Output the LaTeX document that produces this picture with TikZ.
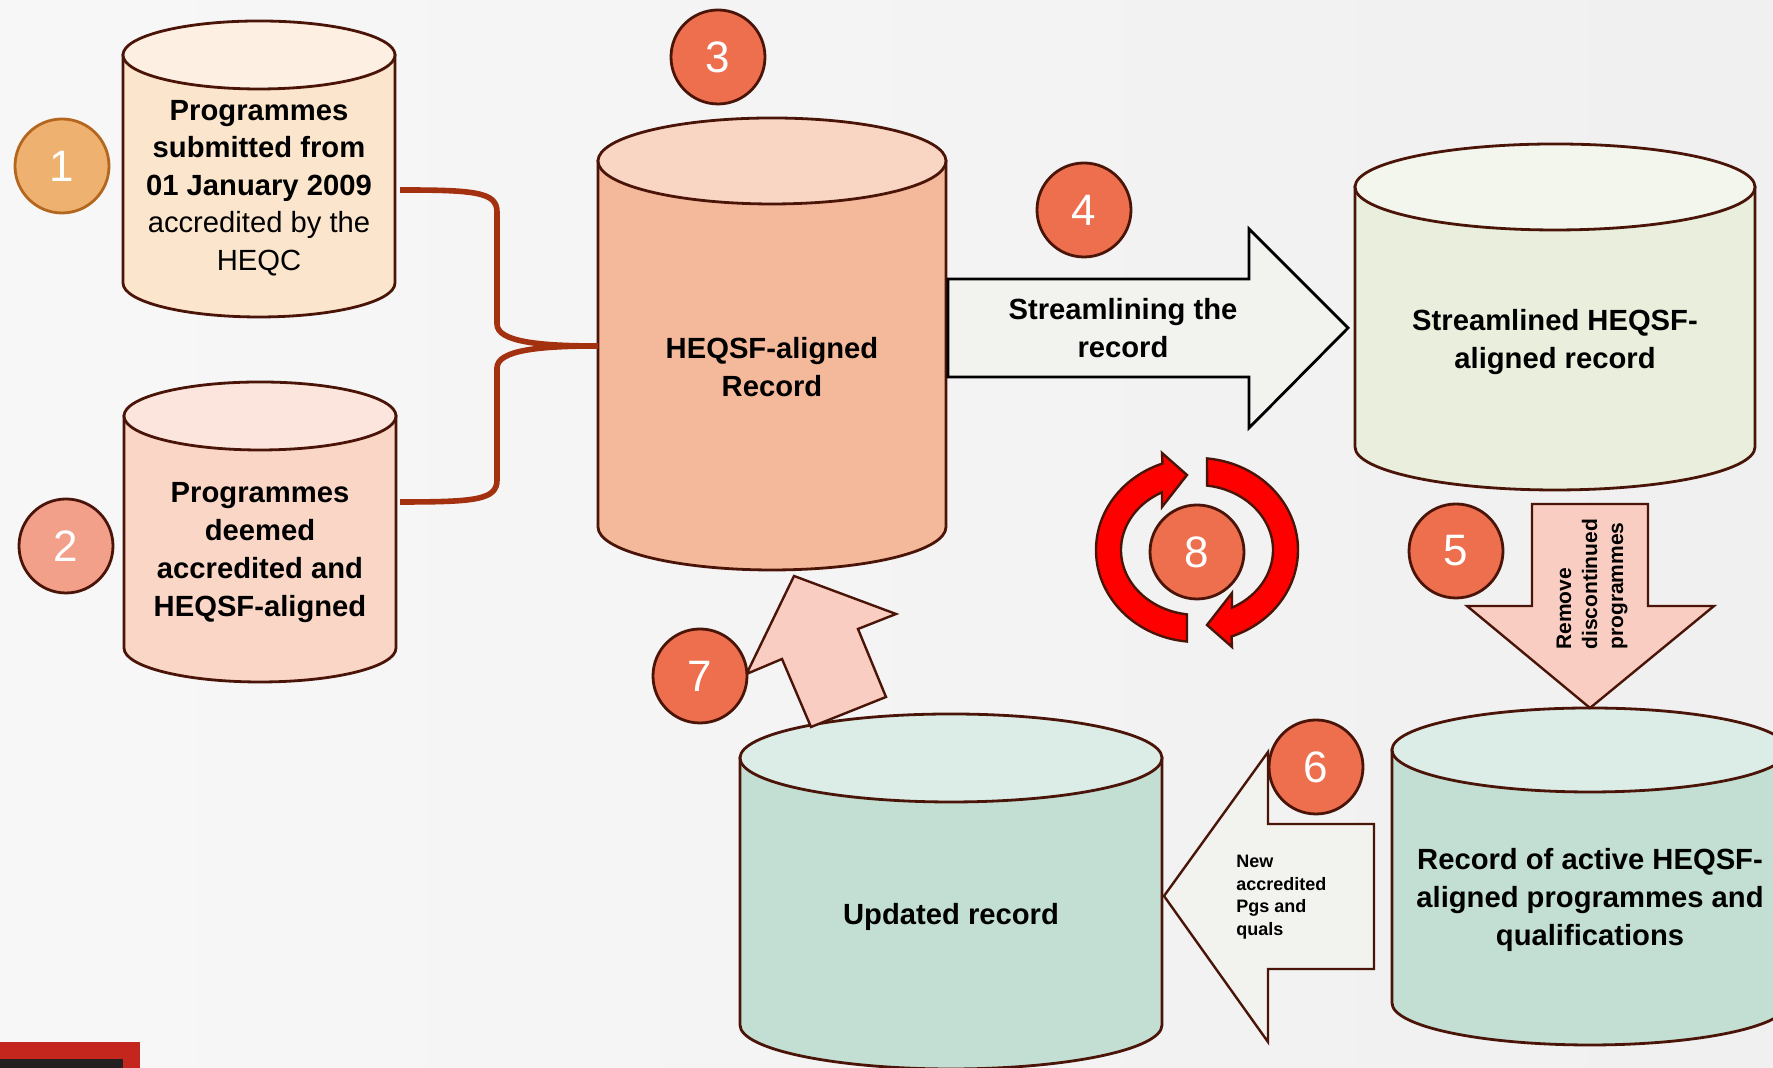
\documentclass[tikz,border=0pt]{standalone}
\usepackage{fontspec}
\setmainfont{Liberation Sans}

\definecolor{edgebrown}{HTML}{4A1508}
\definecolor{numfill}{HTML}{EE6F4D}
\definecolor{onefill}{HTML}{EFB170}
\definecolor{oneline}{HTML}{B5661E}
\definecolor{twofill}{HTML}{F2A089}
\definecolor{bracecol}{HTML}{A3300F}
\definecolor{peachbody}{HTML}{FBE5CD}
\definecolor{peachtop}{HTML}{FDEFE2}
\definecolor{pinkbody}{HTML}{F9D6C5}
\definecolor{pinktop}{HTML}{FBE5DC}
\definecolor{salmonbody}{HTML}{F4B99A}
\definecolor{salmontop}{HTML}{F8D6C3}
\definecolor{greenbody}{HTML}{E9EFDC}
\definecolor{greentop}{HTML}{F3F6EC}
\definecolor{tealbody}{HTML}{C3DFD4}
\definecolor{tealtop}{HTML}{DCECE6}
\definecolor{greyarrow}{HTML}{F2F2EE}
\definecolor{pinkarrow}{HTML}{F9CDC1}
\definecolor{cyclered}{HTML}{FF0000}
\definecolor{barred}{HTML}{C4261E}
\definecolor{bardark}{HTML}{231F20}

% cx, y of top ellipse, y of bottom ellipse, rx, ry, body colour, top colour
\newcommand{\drum}[7]{%
  \filldraw[cylline, fill=#6] (#1-#4,#2) -- (#1-#4,#3)
    arc[start angle=180, end angle=360, x radius=#4, y radius=#5] -- (#1+#4,#2) -- cycle;
  \filldraw[cylline, fill=#7] (#1,#2) ellipse[x radius=#4, y radius=#5];
}

\begin{document}
\begin{tikzpicture}[x=0.5pt,y=0.5pt,
  cylline/.style={draw=edgebrown, line width=1.4pt},
  cyltext/.style={align=center, font=\bfseries\fontsize{14.6}{19}\selectfont},
  numdot/.style={circle, draw=edgebrown, line width=1.4pt, fill=numfill, minimum size=47pt,
    inner sep=0pt, text=white, font=\fontsize{22}{22}\selectfont},
  flowarrow/.style={draw=edgebrown, line width=1.2pt, line join=miter},
  cyclearrow/.style={draw=edgebrown, fill=cyclered, line width=1.2pt, line join=miter}]
	\useasboundingbox (0,0) rectangle (1773,1068);
	\clip (0,0) rectangle (1773,1068);
	\fill[left color=white!97!black, right color=white!94!black] (0,0) rectangle (1773,1068);
	\fill[barred] (0,0) rectangle (140,26);
	\fill[bardark] (0,0) rectangle (123,9);

	% the record stores
	\drum{259}{1013}{785}{136}{34}{peachbody}{peachtop}
	\drum{260}{652}{420}{136}{34}{pinkbody}{pinktop}
	\drum{772}{907}{541}{174}{43}{salmonbody}{salmontop}
	\drum{1555}{881}{621}{200}{43}{greenbody}{greentop}
	\drum{1590}{318}{65}{198}{42}{tealbody}{tealtop}
	\drum{951}{310}{43}{211}{44}{tealbody}{tealtop}

	\node[align=center, font=\fontsize{14.6}{18.8}\selectfont] (submitted) at (259,880)
		{\textbf{Programmes}\\\textbf{submitted from}\\\textbf{01 January 2009}\\accredited by the\\HEQC};
	\node[cyltext] (deemed) at (260,515)
		{Programmes\\deemed\\accredited and\\HEQSF-aligned};
	\node[cyltext] (aligned) at (772,701) {HEQSF-aligned\\Record};
	\node[cyltext] (streamlined) at (1555,726)
		{Streamlined HEQSF-\\aligned record};
	\node[cyltext] (active) at (1590,168)
		{Record of active HEQSF-\\aligned programmes and\\qualifications};
	\node[cyltext] (updated) at (951,151) {Updated record};

	% brace joining the two inputs
	\coordinate (brA) at (400,878);
	\coordinate (brB) at (400,566);
	\coordinate (brM) at (598,722);
	\draw[bracecol, line width=2.8pt] (brA) .. controls (475,878) and (497,876) .. (497,856)
		-- (497,744) .. controls (497,726) and (540,722) .. (brM);
	\draw[bracecol, line width=2.8pt] (brB) .. controls (475,566) and (497,568) .. (497,588)
		-- (497,700) .. controls (497,718) and (540,722) .. (brM);

	% block arrows
	\filldraw[draw=black, fill=greyarrow, line width=1.4pt, line join=miter]
		(948,789) -- (1249,789) -- (1249,839) -- (1348,740) -- (1249,640) -- (1249,691) -- (948,691) -- cycle;
	\node[cyltext] (streamlining) at (1123,740) {Streamlining the\\record};
	\filldraw[flowarrow, fill=pinkarrow]
		(1532,564) -- (1648,564) -- (1648,462) -- (1714,462) -- (1590,360) -- (1467,462) -- (1532,462) -- cycle;
	\node[rotate=90, anchor=west, align=left, inner sep=0pt, font=\bfseries\fontsize{10.5}{13}\selectfont]
		(remove) at (1592,418) {Remove\\discontinued\\programmes};
	\filldraw[flowarrow, fill=greyarrow]
		(1374,244) -- (1268,244) -- (1268,316) -- (1164,172) -- (1268,26) -- (1268,99) -- (1374,99) -- cycle;
	\node[anchor=west, align=left, inner sep=0pt, font=\bfseries\fontsize{9}{11.25}\selectfont]
		(newpgs) at (1236,171) {New\\accredited\\Pgs and\\quals};
	\filldraw[flowarrow, fill=pinkarrow]
		(794,492) -- (896,454) -- (858,439) -- (886,371) -- (811,341) -- (782,409) -- (746.5,394) -- cycle;

	% cycle arrows
	\begin{scope}[shift={(1197,518)}]
		\foreach \turn in {0,180}{
			\filldraw[cyclearrow, rotate=\turn] (264.3:101 and 92)
				arc[start angle=264.3, end angle=110, x radius=101, y radius=92]
				-- (-35,97) -- (-10,75) -- (-35,43) -- (117.4:76 and 65)
				arc[start angle=117.4, end angle=262.4, x radius=76, y radius=65] -- cycle;
		}
	\end{scope}

	% step numbers
	\node[numdot, fill=onefill, draw=oneline] (n1) at (62,902) {1};
	\node[numdot, fill=twofill] (n2) at (66,522) {2};
	\node[numdot] (n3) at (718,1011) {3};
	\node[numdot] (n4) at (1084,858) {4};
	\node[numdot] (n5) at (1456,517) {5};
	\node[numdot] (n6) at (1316,301) {6};
	\node[numdot] (n7) at (700,392) {7};
	\node[numdot] (n8) at (1197,516) {8};
\end{tikzpicture}
\end{document}
